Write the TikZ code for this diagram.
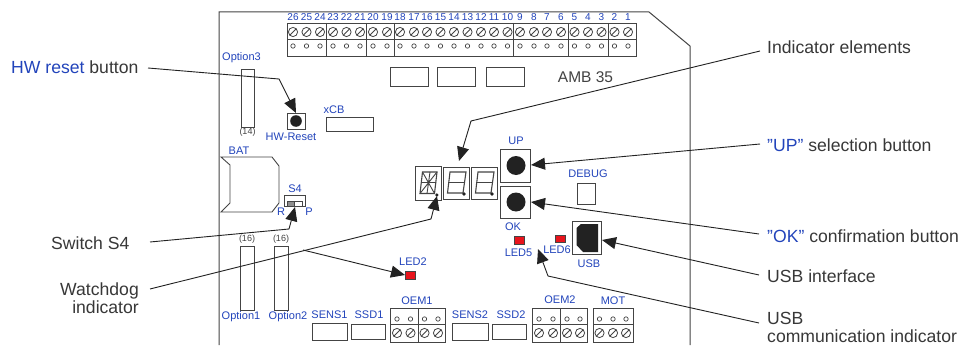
\documentclass[tikz,border=0pt]{standalone}
\usepackage{fontspec}
\setmainfont{Liberation Sans}
\usetikzlibrary{arrows.meta}
\definecolor{lblue}{HTML}{2244BB}
\definecolor{dk}{HTML}{222222}
\definecolor{ln}{HTML}{444444}
\definecolor{ledred}{HTML}{E8141C}
\tikzset{
 callout/.style={font=\fontsize{17.6}{18.5}\selectfont,text=dk!90!white,inner sep=0,anchor=west,align=left},
 small/.style={font=\fontsize{11}{12}\selectfont,text=lblue,inner sep=0},
 pinnum/.style={font=\fontsize{10}{11}\selectfont,text=lblue,inner sep=0},
 tiny/.style={font=\fontsize{9}{10}\selectfont,text=ln,inner sep=0},
 part/.style={draw=ln,line width=.9pt,fill=white},
 board/.style={draw=ln,line width=1pt},
 ptr/.style={draw=dk,line width=.9pt,-{Triangle[length=14pt,width=12pt,fill=dk]}},
 hole/.style={draw=ln,line width=.7pt,fill=white},
 seg/.style={draw=ln,line width=1.1pt},
 btn/.style={fill=dk,draw=none},
 led/.style={draw=ln,line width=.6pt,fill=ledred}
}
\newcommand{\screw}[2]{%
 \draw[hole,line width=.8pt] (#1,#2) circle (4.6);
 \draw[ln,line width=.8pt] (#1-3.2,#2+3.2) -- (#1+3.2,#2-3.2);}
\newcommand{\boxp}[4]{\draw[part] (#1,#2) rectangle (#3,#4);}
\newcommand{\digit}[1]{%
 \draw[seg] (#1+6.5,172) -- (#1+22.5,172) -- (#1+19.5,193) -- (#1+4,193) -- cycle;
 \draw[seg] (#1+5.2,182.5) -- (#1+21,182.5);
 \fill[dk] (#1+20.5,194) circle (1.8);}
\begin{document}
\begin{tikzpicture}[x=1pt,y=-1pt]
\useasboundingbox (0,0) rectangle (960,345);
\fill[white] (0,0) rectangle (960,345);
% board
\draw[board] (219,345) -- (219,12) -- (649,12) -- (690,46) -- (690,345);
% top terminals
\draw[part] (287,23) rectangle (636,56);
\draw[ln,line width=.8pt] (287,39.5) -- (636,39.5);
\foreach \x in {326.5,366.5,394,513.5,568,608.5} \draw[ln,line width=1pt] (\x,23) -- (\x,56);
\foreach \n/\x in {26/293,25/306.5,24/320,23/333,22/346.5,21/360,20/373,19/387,18/400,17/414,16/427,15/440.5,14/454,13/467.5,12/481,11/494,10/507.5,9/520,8/534,7/547,6/561,5/574.5,4/588,3/601.5,2/614.5,1/628}{
 \node[pinnum] (pin\n) at (\x,17) {\n};
 \screw{\x}{32}
 \draw[hole] (\x,46) circle (2.2);
}
% plain rects
\boxp{390}{67}{428}{86.5}
\boxp{437}{67}{475.5}{86.5}
\boxp{486}{67}{524}{86.5}
\node[font=\fontsize{15.5}{16}\selectfont,text=dk!85!white,inner sep=0] (amb) at (585.5,77) {AMB 35};
% option 3
\node[small] (opt3) at (241.5,58) {Option3};
\boxp{241}{69}{254.5}{127}
\node[tiny] (n14) at (247.5,132.5) {(14)};
% HW reset
\boxp{287}{113}{305.5}{129}
\fill[btn] (296,121) circle (5.8);
\node[small] (hwr) at (291,136.5) {HW-Reset};
\node[small] (xcb) at (334,110) {xCB};
\boxp{326}{117}{373}{131}
% BAT
\node[small] (bat) at (239,151) {BAT};
\draw[part] (221,157) -- (272,157) -- (279,166) -- (279,203) -- (272,212) -- (221,212) -- (230,203) -- (230,165) -- cycle;
% S4
\node[small] (s4) at (295,189) {S4};
\boxp{284}{195}{305}{206}
\draw[ln,line width=.7pt,fill=white] (287,201) rectangle (302,206);
\fill[ln!60!white] (287.5,201.5) rectangle (294,205.5);
\draw[ln,line width=.7pt] (294.5,201) -- (294.5,206);
\node[small] (r) at (281,211.5) {R};
\node[small] (p) at (309,211.5) {P};
% digits
\boxp{415}{166}{441}{200}
\boxp{443.5}{167}{469}{199}
\boxp{471.5}{167}{497}{199}
\draw[seg] (422.5,172) -- (437,172) -- (434.5,193.5) -- (420,193.5) -- cycle;
\draw[seg,line width=.9pt] (421,182.5) -- (436,182.5) (430,172) -- (427,193.5) (422.5,172) -- (434.5,193.5) (437,172) -- (420,193.5);
\fill[dk] (436.8,195) circle (1.8);
\digit{443.5}
\digit{471.5}
% buttons
\node[small] (up) at (516,141) {UP};
\boxp{500}{149}{530.5}{182}
\fill[btn] (516,165.5) circle (9.5);
\boxp{500}{186}{530.5}{218}
\fill[btn] (516,202) circle (9.5);
\node[small] (ok) at (513,227) {OK};
% debug
\node[small] (debug) at (588,174) {DEBUG};
\boxp{577.5}{183}{595}{204}
% USB
\boxp{572}{221}{601}{254}
\fill[dk] (576.5,228) -- (581,224) -- (598,224) -- (598,252) -- (583,252) -- (576.5,245) -- cycle;
\node[small] (usb) at (589,263.5) {USB};
% LEDs
\draw[led] (514.5,236.5) rectangle (524,244.5);
\node[small] (led5) at (518.5,253) {LED5};
\draw[led] (555,235) rectangle (565,242.5);
\node[small] (led6) at (557,250) {LED6};
\draw[led] (405.5,271) rectangle (415.5,279);
\node[small] (led2) at (413,262) {LED2};
% option 1,2
\node[tiny] (n16a) at (247,239) {(16)};
\node[tiny] (n16b) at (281,239) {(16)};
\boxp{240}{246}{254}{310}
\boxp{274.5}{246}{288}{310}
\node[small] (opt1) at (241,317) {Option1};
\node[small] (opt2) at (288,317) {Option2};
% bottom
\node[small] (sens1) at (329.5,315) {SENS1};
\boxp{312}{323.5}{347}{340}
\node[small] (ssd1) at (369,315) {SSD1};
\boxp{351}{324}{385}{339}
\node[small] (sens2) at (470,315) {SENS2};
\boxp{452}{323.5}{488}{340}
\node[small] (ssd2) at (511,315) {SSD2};
\boxp{492.5}{324}{526}{339}
\node[small] (oem1) at (417,301) {OEM1};
\node[small] (oem2) at (560,300) {OEM2};
\node[small] (mot) at (613,301) {MOT};
\draw[part] (390.5,308) rectangle (445,342);
\draw[ln,line width=.8pt] (390.5,324) -- (445,324);
\draw[ln,line width=1pt] (418,308) -- (418,342);
\draw[part] (532.5,308) rectangle (587,342);
\draw[ln,line width=.8pt] (532.5,324) -- (587,324);
\draw[ln,line width=1pt] (560,308) -- (560,342);
\draw[part] (593,308) rectangle (633,342);
\draw[ln,line width=.8pt] (593,324) -- (633,324);
\foreach \x in {397,410.5,424.5,438,539,553,567,580,599.5,613,626}{
 \draw[hole] (\x,319) circle (2.2);
 \screw{\x}{333}
}
% callouts
\node[callout] (lhw) at (11,67) {\textcolor{lblue}{HW reset} button};
\node[callout] (ls4) at (51,243) {Switch S4};
\node[callout,align=right,anchor=east] (lwd) at (139,298) {Watchdog\\indicator};
\node[callout] (lind) at (767,47) {Indicator elements};
\node[callout] (lup) at (767,145) {\textcolor{lblue}{"UP"} selection button};
\node[callout] (lok) at (767,236) {\textcolor{lblue}{"OK"} confirmation button};
\node[callout] (lusb) at (767,276) {USB interface};
\node[callout] (lcom) at (767,327.5) {USB\\communication indicator};
% connector ends
\coordinate (hwS) at (148,68);   \coordinate (hwK) at (279,79);  \coordinate (hwT) at (296,113);
\coordinate (s4S) at (150,242);  \coordinate (s4K) at (289,229); \coordinate (s4T) at (295,207);
\coordinate (wdS) at (150,289);  \coordinate (wdK) at (431,219); \coordinate (wdT) at (437,196);
\coordinate (l2S) at (303,250);  \coordinate (l2T) at (405,275);
\coordinate (inS) at (760,51);   \coordinate (inK) at (471,121); \coordinate (inT) at (459,161);
\coordinate (upS) at (760,144);  \coordinate (upT) at (531,165);
\coordinate (okS) at (759,234);  \coordinate (okT) at (531,202);
\coordinate (usS) at (759,275);  \coordinate (usT) at (602,240);
\coordinate (coS) at (759,323);  \coordinate (coK) at (548,276); \coordinate (coT) at (538,249);
\draw[ptr] (hwS) -- (hwK) -- (hwT);
\draw[ptr] (s4S) -- (s4K) -- (s4T);
\draw[ptr] (wdS) -- (wdK) -- (wdT);
\draw[ptr] (l2S) -- (l2T);
\draw[ptr] (inS) -- (inK) -- (inT);
\draw[ptr] (upS) -- (upT);
\draw[ptr] (okS) -- (okT);
\draw[ptr] (usS) -- (usT);
\draw[ptr] (coS) -- (coK) -- (coT);
\end{tikzpicture}
\end{document}
